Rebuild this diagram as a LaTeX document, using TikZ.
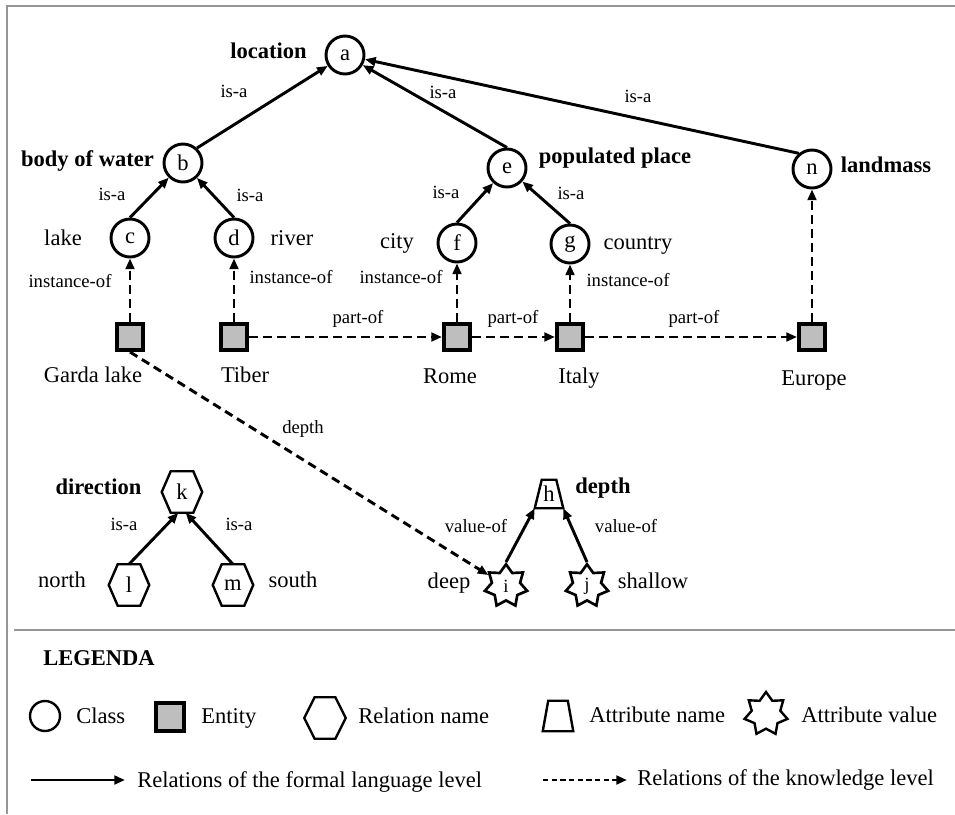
\documentclass[tikz,border=0pt]{standalone}
\usepackage{fontspec}
\setmainfont{Liberation Serif}
\usetikzlibrary{arrows.meta,shapes.geometric}

\definecolor{entgray}{RGB}{190,190,190}
\definecolor{framegray}{RGB}{150,150,150}

\newcommand\fsmain{\fontsize{16.9}{19}\selectfont}
\newcommand\fslab{\fontsize{14}{16}\selectfont}

\begin{document}
\begin{tikzpicture}[x=0.75pt,y=-0.75pt,
  cls/.style={circle,draw,line width=2.2pt,minimum size=28.5pt,inner sep=0pt,font=\fsmain},
  ent/.style={rectangle,draw,fill=entgray,line width=3pt,minimum size=19.5pt,inner sep=0pt},
  hexa/.style={rectangle,inner sep=0pt,minimum width=30pt,minimum height=30.75pt,font=\fsmain},
  trapbox/.style={rectangle,inner sep=0pt,minimum width=21pt,minimum height=21pt,font=\fsmain},
  starv/.style={star,star points=7,star point ratio=1.5,draw,line width=2pt,
                minimum size=32.5pt,inner sep=0pt,font=\fslab},
  boldtxt/.style={anchor=base,inner sep=0pt,font=\fsmain\bfseries},
  wordtxt/.style={anchor=base,inner sep=0pt,font=\fsmain},
  reltxt/.style={anchor=base,inner sep=0pt,font=\fslab},
  legtext/.style={anchor=base west,inner sep=0pt,font=\fsmain},
  sarr/.style={line width=2.2pt,-{Triangle[length=8pt,width=6.5pt]}},
  darr/.style={line width=2.2pt,dash pattern=on 6.5pt off 4pt,-{Triangle[length=8pt,width=6.5pt]}},
  hexline/.style={line width=1.8pt,line join=miter},
  trapline/.style={line width=1.8pt,line join=miter},
]
\useasboundingbox (0,0) rectangle (955,814);

% frame and divider
\draw[framegray,line width=1.5pt] (7,814) -- (7,6) -- (955,6);
\draw[framegray,line width=1.5pt] (14,630) -- (955,630);

% classes
\node[cls] (a) at (345,55) {a};
\node[cls] (b) at (183,163) {b};
\node[cls] (c) at (130,238) {c};
\node[cls] (d) at (234,238) {d};
\node[cls] (e) at (507,168) {e};
\node[cls] (f) at (457,243) {f};
\node[cls] (g) at (570,244) {g};
\node[cls] (n) at (812,169) {n};

% entities
\node[ent] (garda)  at (130,337) {};
\node[ent] (tiber)  at (234,337) {};
\node[ent] (rome)   at (457,337) {};
\node[ent] (italy)  at (570,337) {};
\node[ent] (europe) at (812,337) {};

% relation names (hexagons)
\node[hexa] (k) at (182,492) {k};
\node[hexa] (l) at (129,585) {l};
\node[hexa] (m) at (233,585) {m};

% attribute name and values
\node[trapbox] (h) at (549,494) {h};
\node[starv] (i) at (506,586) {i};
\node[starv] (j) at (587,586) {j};

% outlines of hexagons and trapezium
\foreach \hx in {k,l,m}
  \draw[hexline] (\hx.west) -- ([xshift=6.75pt]\hx.north west) -- ([xshift=-6.75pt]\hx.north east)
     -- (\hx.east) -- ([xshift=-6.75pt]\hx.south east) -- ([xshift=6.75pt]\hx.south west) -- cycle;
\draw[trapline] (h.south west) -- (h.south east) -- ([xshift=-5.25pt]h.north east)
     -- ([xshift=5.25pt]h.north west) -- cycle;

% names
\node[boldtxt] (t-location) at (268.5,58) {location};
\node[boldtxt] (t-water) at (87.5,166) {body of water};
\node[boldtxt] (t-populated) at (615,163) {populated place};
\node[boldtxt] (t-landmass) at (886,172) {landmass};
\node[boldtxt] (t-direction) at (98.5,494) {direction};
\node[boldtxt] (t-depth) at (603,493) {depth};

\node[wordtxt] (t-lake) at (63,245) {lake};
\node[wordtxt] (t-river) at (292,245) {river};
\node[wordtxt] (t-city) at (397,248) {city};
\node[wordtxt] (t-country) at (638,249) {country};
\node[wordtxt] (t-garda) at (93,382) {Garda lake};
\node[wordtxt] (t-tiber) at (245,382) {Tiber};
\node[wordtxt] (t-rome) at (450,383) {Rome};
\node[wordtxt] (t-italy) at (579,383) {Italy};
\node[wordtxt] (t-europe) at (814,385) {Europe};
\node[wordtxt] (t-north) at (62,587) {north};
\node[wordtxt] (t-south) at (293,587) {south};
\node[wordtxt] (t-deep) at (449,588) {deep};
\node[wordtxt] (t-shallow) at (653,588) {shallow};

% relation labels
\node[reltxt] (r-ab) at (234,97) {is-a};
\node[reltxt] (r-ae) at (443,98) {is-a};
\node[reltxt] (r-an) at (638,102) {is-a};
\node[reltxt] (r-bc) at (112,200) {is-a};
\node[reltxt] (r-bd) at (250,201) {is-a};
\node[reltxt] (r-ef) at (446,198) {is-a};
\node[reltxt] (r-eg) at (571,199) {is-a};
\node[reltxt] (r-ic) at (70,287) {instance-of};
\node[reltxt] (r-id) at (291,283) {instance-of};
\node[reltxt] (r-if) at (401,283) {instance-of};
\node[reltxt] (r-ig) at (628,286) {instance-of};
\node[reltxt] (r-p1) at (358,323) {part-of};
\node[reltxt] (r-p2) at (513,323) {part-of};
\node[reltxt] (r-p3) at (694,323) {part-of};
\node[reltxt] (r-depth) at (303,433) {depth};
\node[reltxt] (r-kl) at (124,530) {is-a};
\node[reltxt] (r-km) at (239,530) {is-a};
\node[reltxt] (r-hi) at (476,532) {value-of};
\node[reltxt] (r-hj) at (626,532) {value-of};

% formal language level relations
\draw[sarr] (b.47) -- (a);
\draw[sarr] (e.north) -- (a);
\draw[sarr] (n.130) -- (a);
\draw[sarr] (c.north) -- (b);
\draw[sarr] (d.north) -- (b);
\draw[sarr] (f.north) -- (e);
\draw[sarr] (g.north) -- (e);
\draw[sarr] (l.north) -- (k.260);
\draw[sarr] (m.north) -- (k.280);
\draw[sarr] (i.north) -- (h.south west);
\draw[sarr] (j.north) -- (h.south east);

% knowledge level relations
\draw[darr] (garda) -- (c);
\draw[darr] (tiber) -- (d);
\draw[darr] (rome) -- (f);
\draw[darr] (italy) -- (g);
\draw[darr] (europe) -- (n);
\draw[darr] (tiber) -- (rome);
\draw[darr] (rome) -- (italy);
\draw[darr] (italy) -- (europe);
\draw[darr] (garda.south) -- (i);

% legend
\node[anchor=base west,inner sep=0pt,font=\fsmain\bfseries] (legtitle) at (43,665) {LEGENDA};
\node[circle,draw,line width=1.8pt,minimum size=22.5pt,inner sep=0pt] (lgclass) at (45,716) {};
\node[legtext] (lgclass-t) at (76,723) {Class};
\node[ent,minimum size=21pt] (lgent) at (170,717) {};
\node[legtext] (lgent-t) at (201,723) {Entity};
\node[hexa,minimum width=30.75pt] (lghex) at (325,718) {};
\draw[hexline] (lghex.west) -- ([xshift=7.8pt]lghex.north west) -- ([xshift=-7.8pt]lghex.north east)
   -- (lghex.east) -- ([xshift=-7.8pt]lghex.south east) -- ([xshift=7.8pt]lghex.south west) -- cycle;
\node[legtext] (lghex-t) at (358,723) {Relation name};
\node[trapbox,minimum width=22.5pt,minimum height=22.5pt] (lgtrap) at (558,716) {};
\draw[trapline] (lgtrap.south west) -- (lgtrap.south east) -- ([xshift=-4.1pt]lgtrap.north east)
   -- ([xshift=4.1pt]lgtrap.north west) -- cycle;
\node[legtext] (lgtrap-t) at (589,722) {Attribute name};
\node[starv,line width=1.8pt,minimum size=33pt] (lgstar) at (766,714) {};
\node[legtext] (lgstar-t) at (801,722) {Attribute value};

\coordinate (ls1) at (31,780);
\coordinate (ls2) at (125,780);
\draw[sarr,line width=2pt] (ls1) -- (ls2);
\node[legtext] (ls-t) at (137,787) {Relations of the formal language level};
\coordinate (ld1) at (543,780);
\coordinate (ld2) at (627,780);
\draw[darr,line width=2pt,dash pattern=on 4pt off 2.5pt] (ld1) -- (ld2);
\node[legtext] (ld-t) at (637,785) {Relations of the knowledge level};
\end{tikzpicture}
\end{document}
